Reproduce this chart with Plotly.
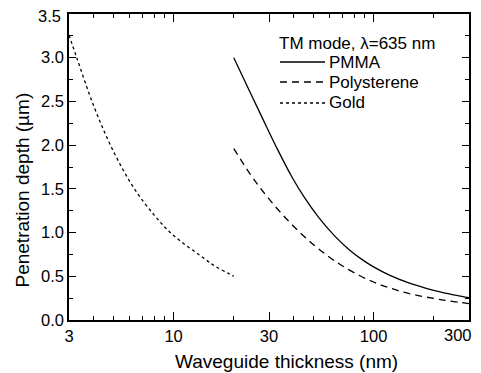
import math
import plotly.graph_objects as go

# Data
gold_x = [3, 3.28, 4, 5, 6.41, 8, 9.24, 11, 13.55, 16, 18.9, 20]
gold_y = [3.26, 3.0, 2.44, 1.93, 1.49, 1.20, 1.04, 0.89, 0.74, 0.62, 0.53, 0.50]

pmma_x = [20, 24, 28, 33, 39, 45, 53, 63, 75, 87, 100, 120, 150, 185, 220, 260, 300]
pmma_y = [3.00, 2.617, 2.295, 1.957, 1.639, 1.405, 1.177, 0.977, 0.810, 0.696, 0.607, 0.513, 0.424, 0.360, 0.317, 0.282, 0.255]

ps_x = [20, 24, 28, 34, 42, 50, 60, 70, 85, 100, 115, 135, 160, 200, 240, 300]
ps_y = [1.96, 1.678, 1.470, 1.239, 1.020, 0.863, 0.720, 0.6175, 0.5085, 0.4344, 0.3814, 0.3312, 0.2891, 0.2462, 0.2175, 0.1881]

x_ticks = [3, 10, 30, 100, 300]
x_tick_labels = ["3", "10", "30", "100", "300"]
x_minor = [4, 5, 6, 7, 8, 9, 20, 40, 50, 60, 70, 80, 90, 200]
y_ticks = [0.0, 0.5, 1.0, 1.5, 2.0, 2.5, 3.0, 3.5]
y_tick_labels = [f"{v:.1f}" for v in y_ticks]

legend_title = "TM mode, λ=635 nm"
names = ["PMMA", "Polysterene", "Gold"]
dashes = ["solid", "7px,5px", "3px,3px"]

FONT = "Liberation Sans, Arial, sans-serif"

fig = go.Figure()
fig.add_trace(go.Scatter(x=pmma_x, y=pmma_y, mode="lines", line=dict(color="black", width=1.3, dash=dashes[0], shape="spline"), showlegend=False))
fig.add_trace(go.Scatter(x=ps_x, y=ps_y, mode="lines", line=dict(color="black", width=1.3, dash=dashes[1], shape="spline"), showlegend=False))
fig.add_trace(go.Scatter(x=gold_x, y=gold_y, mode="lines", line=dict(color="black", width=1.3, dash=dashes[2], shape="spline"), showlegend=False))

# page body has an 8px margin; figure is shrunk so the plot lands at screen coords
OFF = 8
L, R, T, B = 69, 469, 14, 320          # screen coordinates of the plot area
W, H = 481 - OFF, 373 - OFF

def px(xp):
    return (xp - L) / (R - L)

def py(yp):
    return (B - yp) / (B - T)

# manual legend
fig.add_annotation(x=px(277), y=py(43), xref="paper", yref="paper", text=legend_title, showarrow=False,
                   xanchor="left", yanchor="middle", font=dict(size=17, color="black", family=FONT))
rows = [62, 82, 103]
for nm, ds, ry in zip(names, dashes, rows):
    fig.add_shape(type="line", xref="paper", yref="paper", x0=px(280), x1=px(325), y0=py(ry), y1=py(ry),
                  line=dict(color="black", width=1.3, dash=ds))
    fig.add_annotation(x=px(327), y=py(ry), xref="paper", yref="paper", text=nm, showarrow=False,
                       xanchor="left", yanchor="middle", font=dict(size=17, color="black", family=FONT))

# end tick labels, pulled inside the visible page edge
fig.add_annotation(x=px(473), y=py(335), xref="paper", yref="paper", text=x_tick_labels[-1], showarrow=False,
                   xanchor="right", yanchor="middle", borderpad=0, font=dict(size=16.5, color="black", family=FONT))
fig.add_annotation(x=px(63), y=y_ticks[-1], xref="paper", yref="y", text=y_tick_labels[-1], showarrow=False,
                   xanchor="right", yanchor="middle", yshift=-2, font=dict(size=16.5, color="black", family=FONT))

# axis titles
fig.add_annotation(x=px(286), y=py(361), xref="paper", yref="paper", text="Waveguide thickness (nm)", showarrow=False,
                   xanchor="center", yanchor="middle", font=dict(size=19, color="black", family=FONT))
fig.add_annotation(x=px(21.5), y=py(190), xref="paper", yref="paper", text="Penetration depth (µm)", showarrow=False,
                   textangle=-90, xanchor="center", yanchor="middle", font=dict(size=19, color="black", family=FONT))

fig.update_xaxes(type="log", range=[0.4771213, 2.4771213], tickmode="array", tickvals=x_ticks,
                 ticktext=x_tick_labels[:-1] + [""], ticks="inside", ticklen=8, tickwidth=1.3, tickcolor="black",
                 showline=True, linecolor="black", linewidth=1.6, mirror="ticks", showgrid=False, zeroline=False,
                 ticklabeloverflow="allow", automargin=False,
                 tickfont=dict(size=16.5, color="black", family=FONT),
                 minor=dict(tickmode="array", tickvals=x_minor, ticks="inside", ticklen=4, tickwidth=1.2, tickcolor="black", showgrid=False))
fig.update_yaxes(range=[0, 3.5], tickmode="array", tickvals=y_ticks, ticktext=y_tick_labels[:-1] + [""],
                 ticks="inside", ticklen=7, tickwidth=1.3, tickcolor="black",
                 showline=True, linecolor="black", linewidth=1.6, mirror="ticks", showgrid=False, zeroline=False,
                 ticklabeloverflow="allow", automargin=False,
                 tickfont=dict(size=16.5, color="black", family=FONT),
                 minor=dict(dtick=0.25, tick0=0, ticks="inside", ticklen=4, tickwidth=1.2, tickcolor="black", showgrid=False))

fig.update_layout(width=W, height=H,
                  margin=dict(l=L - OFF, r=481 - R, t=T - OFF, b=373 - B, autoexpand=False),
                  paper_bgcolor="white", plot_bgcolor="white", showlegend=False,
                  font=dict(family=FONT, color="black"))

fig.write_html("out.html")
